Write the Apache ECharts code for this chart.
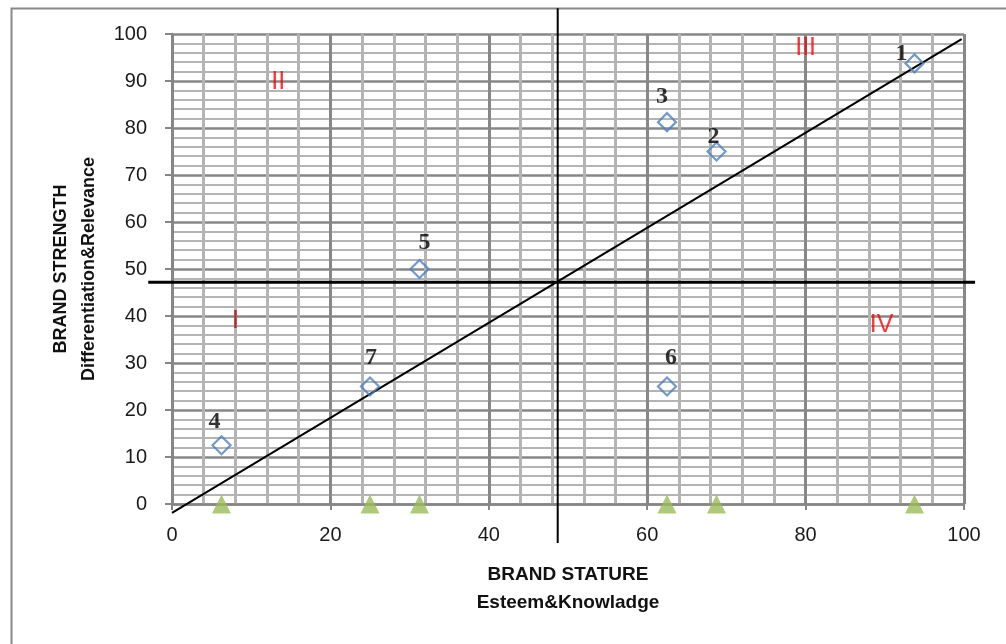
<!DOCTYPE html>
<html>
<head>
<meta charset="utf-8">
<script src="https://cdn.jsdelivr.net/npm/echarts@6/dist/echarts.min.js"></script>
<style>html,body{margin:0;padding:0;background:#fff}#c{width:1006px;height:644px}</style>
</head>
<body>
<div id="c"></div>
<script>
// ---- data ----
const brandLabels = ['1', '2', '3', '4', '5', '6', '7'];
const brandStature = [93.75, 68.75, 62.5, 6.25, 31.25, 62.5, 25];     // x: Esteem & Knowledge
const brandStrength = [93.75, 75, 81.25, 12.5, 50, 25, 25];          // y: Differentiation & Relevance
const statureOnly = [6.25, 25, 31.25, 62.5, 68.75, 93.75];           // triangles on the x axis
const trendX = [0, 99.7];
const trendY = [-1.9, 98.9];
const dividerX = 48.7;
const dividerY = 47.2;
const quadrantNames = ['I', 'II', 'III', 'IV'];
const quadrantX = [8, 13.4, 80, 89.6];
const quadrantY = [39, 89.8, 97, 38.1];
const xTicks = [0, 20, 40, 60, 80, 100];
const yTicks = [0, 10, 20, 30, 40, 50, 60, 70, 80, 90, 100];

// ---- style (not data) ----
const labelOffsets = [[-13, -10], [-3, -15], [-5, -25], [-7, -23], [5, -26], [4, -29], [1, -29]];
const quadrantColors = ['#c00000', '#ff0000', '#ff0000', '#ff0000'];

const chart = echarts.init(document.getElementById('c'), null, {renderer: 'canvas'});

const pointData = brandStature.map((x, i) => ({
  value: [x, brandStrength[i]],
  label: {show: true, formatter: brandLabels[i], position: 'inside', offset: labelOffsets[i]}
}));

// segments: [x1, y1, x2, y2, width]
const segments = [
  [-3, dividerY, 101.4, dividerY, 3],
  [dividerX, 105.5, dividerX, -8.3, 2],
  [trendX[0], trendY[0], trendX[1], trendY[1], 2]
];

const option = {
  animation: false,
  backgroundColor: '#ffffff',
  graphic: [{
    type: 'rect', left: 9, top: 6, silent: true, z: -10,
    shape: {width: 1100, height: 700},
    style: {fill: 'none', stroke: '#888888', lineWidth: 2}
  }],
  grid: {left: 172, right: 42, top: 34, bottom: 140, containLabel: false},
  xAxis: {
    type: 'value', min: xTicks[0], max: xTicks[xTicks.length - 1], interval: 20,
    name: 'BRAND STATURE\nEsteem&Knowladge',
    nameLocation: 'middle', nameGap: 57,
    nameTextStyle: {fontFamily: 'Liberation Sans', fontWeight: 'bold', fontSize: 19, color: '#111', lineHeight: 28},
    axisLine: {show: true, onZero: false, lineStyle: {color: '#868686', width: 2.5}},
    axisTick: {show: true, length: 6, lineStyle: {color: '#868686', width: 2}},
    axisLabel: {fontFamily: 'Liberation Sans', fontSize: 20, color: '#1a1a1a', margin: 21},
    splitLine: {show: true, lineStyle: {color: '#878787', width: 3}},
    minorTick: {show: false, splitNumber: 5},
    minorSplitLine: {show: true, lineStyle: {color: '#b4b4b4', width: 3}}
  },
  yAxis: {
    type: 'value', min: yTicks[0], max: yTicks[yTicks.length - 1], interval: 10,
    name: 'BRAND STRENGTH\nDifferentiation&Relevance',
    nameLocation: 'middle', nameGap: 69, nameRotate: 90,
    nameTextStyle: {fontFamily: 'Liberation Sans', fontWeight: 'bold', fontSize: 18, color: '#111', lineHeight: 28},
    axisLine: {show: true, onZero: false, lineStyle: {color: '#868686', width: 2.5}},
    axisTick: {show: true, length: 7, lineStyle: {color: '#868686', width: 2}},
    axisLabel: {fontFamily: 'Liberation Sans', fontSize: 20, color: '#1a1a1a', margin: 25},
    splitLine: {show: true, lineStyle: {color: '#878787', width: 2.5}},
    minorTick: {show: false, splitNumber: 5},
    minorSplitLine: {show: true, lineStyle: {color: '#b4b4b4', width: 2}}
  },
  series: [
    {
      type: 'custom', clip: false, silent: true, z: 3,
      data: segments,
      renderItem: function (params, api) {
        const p1 = api.coord([api.value(0), api.value(1)]);
        const p2 = api.coord([api.value(2), api.value(3)]);
        return {
          type: 'line',
          shape: {x1: p1[0], y1: p1[1], x2: p2[0], y2: p2[1]},
          style: {stroke: '#000', lineWidth: api.value(4)}
        };
      }
    },
    {
      type: 'scatter', clip: false, symbol: 'triangle', symbolSize: [19, 19], z: 5,
      itemStyle: {color: '#9bbb59'},
      data: statureOnly.map(x => [x, 0])
    },
    {
      type: 'scatter', clip: false, symbol: 'diamond', symbolSize: 18, z: 6,
      itemStyle: {color: 'rgba(255,255,255,0)', borderColor: '#4f81bd', borderWidth: 2.2},
      label: {fontFamily: 'Liberation Serif', fontWeight: 'bold', fontSize: 24, color: '#000'},
      data: pointData
    },
    {
      type: 'scatter', clip: false, symbolSize: 1, z: 7, silent: true,
      itemStyle: {color: 'rgba(0,0,0,0)'},
      data: quadrantNames.map((n, i) => ({
        value: [quadrantX[i], quadrantY[i]],
        label: {show: true, position: 'inside', formatter: n, fontFamily: 'Liberation Sans', fontSize: 25, color: quadrantColors[i]}
      }))
    }
  ]
};
chart.setOption(option);
</script>
</body>
</html>
